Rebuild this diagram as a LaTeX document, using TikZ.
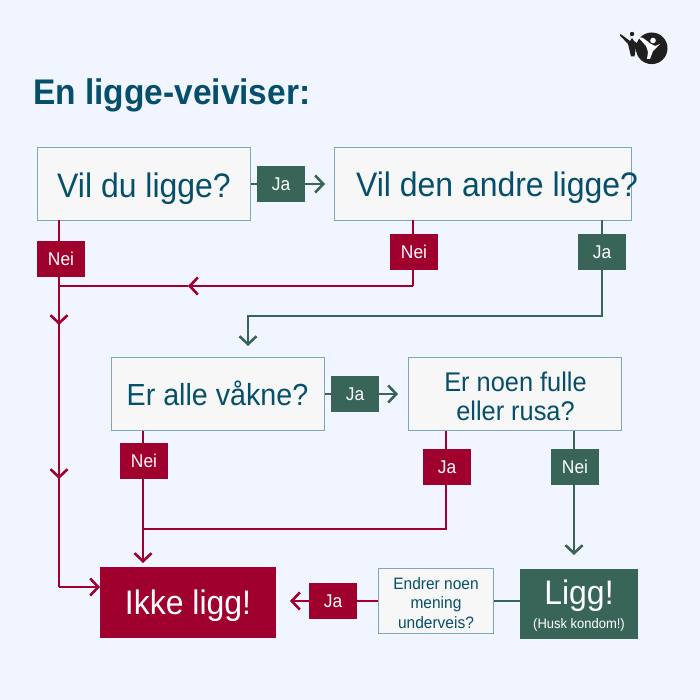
\documentclass[tikz,border=0pt]{standalone}
\usepackage{fontspec}
\setmainfont[FakeStretch=0.94]{Liberation Sans}
\usetikzlibrary{arrows.meta,calc}
\definecolor{bgc}{HTML}{F1F5FF}
\definecolor{teal}{HTML}{064F6B}
\definecolor{edge}{HTML}{7FA6BA}
\definecolor{boxf}{HTML}{F7F7F7}
\definecolor{grn}{HTML}{386557}
\definecolor{red}{HTML}{A0002D}
\tikzset{
 x=1pt,y=-1pt,
 qbox/.style={draw=edge,line width=1pt,fill=boxf,text=teal,inner sep=0pt,outer sep=0pt,align=center,anchor=north west},
 tagn/.style={fill=#1,text=white,minimum width=48pt,minimum height=36pt,inner sep=0pt,font=\fontsize{18.5}{18.5}\selectfont},
 big/.style={fill=#1,text=white,inner sep=0pt,outer sep=0pt,align=center,anchor=north west},
 txt/.style={inner sep=0pt,align=center,anchor=base,text=#1},
 lnk/.style={line width=2.6pt,draw=#1},
 tip/.style={-{Straight Barb[length=8pt,width=17pt,line width=2.6pt]}}
}
\begin{document}
\begin{tikzpicture}
\useasboundingbox (0,0) rectangle (700,700);
\fill[bgc] (0,0) rectangle (700,700);

\node[anchor=base west,inner sep=0pt,text=teal,font=\bfseries\fontsize{35.6}{35.6}\selectfont] (title) at (33,105) {En ligge-veiviser:};

% boxes
\node[qbox,minimum width=213pt,minimum height=73pt] (q1) at (37.5,147.5) {};
\node[qbox,minimum width=297pt,minimum height=73pt] (q2) at (334.5,147.5) {};
\node[qbox,minimum width=213pt,minimum height=73pt] (q3) at (111.5,357.5) {};
\node[qbox,minimum width=213pt,minimum height=73pt] (q4) at (408.5,357.5) {};
\node[qbox,minimum width=115pt,minimum height=65pt] (q5) at (378.5,568.5) {};
\node[big=red,minimum width=176pt,minimum height=71pt] (no) at (100,567) {};
\node[big=grn,minimum width=118pt,minimum height=70pt] (yes) at (520,569) {};

% box texts
\node[txt=teal,font=\fontsize{34}{34}\selectfont] (q1t) at (144,198) {Vil du ligge?};
\node[txt=teal,font=\fontsize{34}{34}\selectfont] (q2t) at (497,197) {Vil den andre ligge?};
\node[txt=teal,font=\fontsize{30.5}{30.5}\selectfont] (q3t) at (217.5,405) {Er alle våkne?};
\node[txt=teal,font=\fontsize{27}{27}\selectfont] (q4a) at (515.5,391) {Er noen fulle};
\node[txt=teal,font=\fontsize{27}{27}\selectfont] (q4b) at (515.5,420) {eller rusa?};
\node[txt=teal,font=\fontsize{16.5}{16.5}\selectfont] (q5a) at (436,589) {Endrer noen};
\node[txt=teal,font=\fontsize{16.5}{16.5}\selectfont] (q5b) at (436,608.5) {mening};
\node[txt=teal,font=\fontsize{16.5}{16.5}\selectfont] (q5c) at (436,628) {underveis?};
\node[txt=white,font=\fontsize{34}{34}\selectfont] (not) at (188,614) {Ikke ligg!};
\node[txt=white,font=\fontsize{34}{34}\selectfont] (yest) at (579,604) {Ligg!};
\node[txt=white,font=\fontsize{13.8}{13.8}\selectfont] (yess) at (579,628) {(Husk kondom!)};

% joints
\coordinate (j1a) at (59,286);
\coordinate (j1m) at (188,286);
\coordinate (j1b) at (413,286);
\coordinate (v1) at (59,325);
\coordinate (v2) at (59,479);
\coordinate (c1) at (59,587);
\coordinate (g1) at (602,316);
\coordinate (g2) at (248,316);
\coordinate (g3) at (248,346);
\coordinate (r1) at (446,529);
\coordinate (r2) at (143,529);
\coordinate (r3) at (143,563);
\coordinate (n1) at (574,555);
\coordinate (a1) at (325,394);
\coordinate (a2) at (398,394);
\coordinate (a3) at (251,184);
\coordinate (a4) at (325,184);
\coordinate (a5) at (290,601);
\coordinate (a6) at (378,601);
\coordinate (a7) at (494,601);
\coordinate (a8) at (520,601);

% connectors
\draw[lnk=grn,tip] (a3) -- (a4);
\draw[lnk=grn,tip] (a1) -- (a2);
\draw[lnk=red] (q1.south -| v1) -- (c1);
\draw[lnk=red,tip] (j1b) -- (j1m);
\draw[lnk=red] (j1m) -- (j1a);
\draw[lnk=red] (q2.south -| j1b) -- (j1b);
\draw[lnk=red,tip] (59,290) -- (v1);
\draw[lnk=red,tip] (59,440) -- (v2);
\draw[lnk=red,tip] (c1) -- (no.west |- c1);
\draw[lnk=grn,tip] (q2.south -| g1) -- (g1) -- (g2) -- (g3);
\draw[lnk=red,tip] (q3.south -| r3) -- (r3);
\draw[lnk=red] (q4.south -| r1) -- (r1) -- (r2);
\draw[lnk=grn,tip] (q4.south -| n1) -- (n1);
\draw[lnk=red,tip] (a6) -- (a5);
\draw[lnk=grn] (a7) -- (a8);

% tags
\node[tagn=grn] (t1) at (281,184) {Ja};
\node[tagn=red] (t2) at (61,259) {Nei};
\node[tagn=red] (t3) at (414,252) {Nei};
\node[tagn=grn] (t4) at (602,252) {Ja};
\node[tagn=grn] (t5) at (355,394) {Ja};
\node[tagn=red] (t6) at (144,461) {Nei};
\node[tagn=red] (t7) at (447,467) {Ja};
\node[tagn=grn] (t8) at (575,467) {Nei};
\node[tagn=red] (t9) at (333,601) {Ja};

% logo
\fill[black!88] (651.7,48.3) circle (15.8);
\fill[white] (648,52) -- (647,59) -- (650,59) -- (653,51) -- (660,44) -- (655,46) -- (651,44) -- (643,38) -- (638,37) -- (646,46) -- cycle;
\fill[white] (653,40.5) circle (2.8);
\fill[black!88] (620.5,34) -- (630,41) -- (632,38) -- (634,41) -- (641,46) -- (639,49) -- (636,47) -- (634.5,56.5) -- (631,56.5) -- (628,44) -- (620,35.5) -- cycle;
\fill[black!88] (632,34) circle (2.2);
\end{tikzpicture}
\end{document}
